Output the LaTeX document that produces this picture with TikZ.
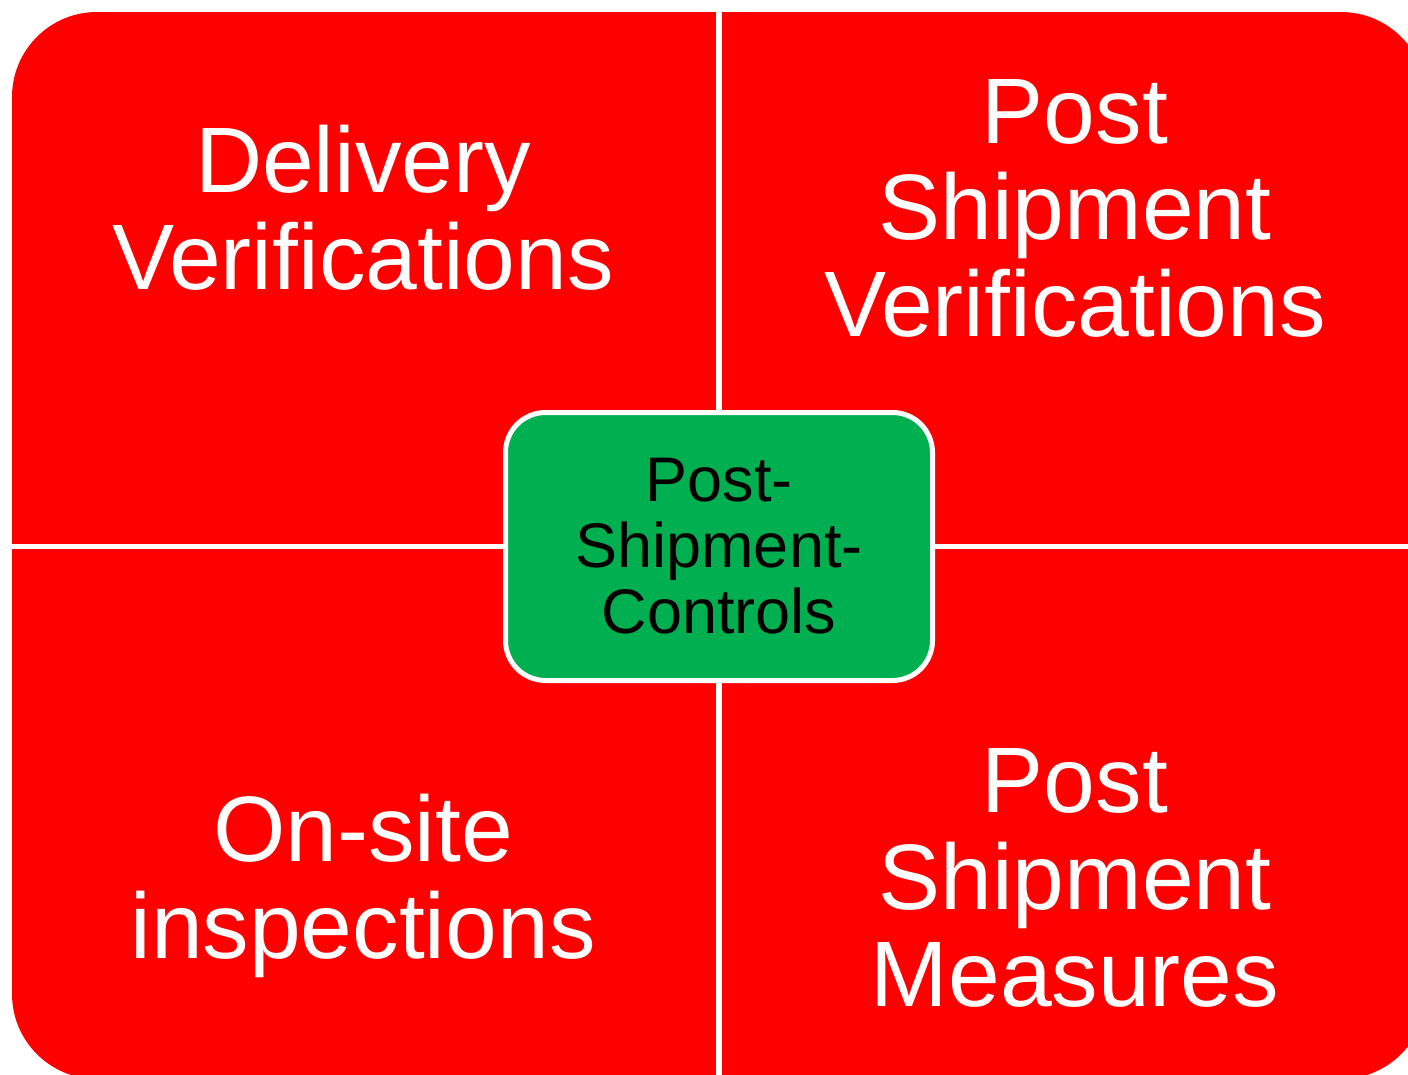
\documentclass[tikz,border=0pt]{standalone}
\usepackage{fontspec}
\setmainfont{Liberation Sans}
\definecolor{quadred}{HTML}{FF0000}
\definecolor{hubgreen}{HTML}{00B050}
\begin{document}
\begin{tikzpicture}[x=1pt, y=-1pt,
  quad/.style={fill=quadred},
  divider/.style={draw=white, line width=5.5pt},
  quadtext/.style={text=white, inner sep=0pt, anchor=base, align=center,
    font=\fontsize{93}{97}\selectfont},
  hubbox/.style={draw=white, line width=5pt, fill=hubgreen, rounded corners=40pt,
    minimum width=427pt, minimum height=268pt, inner sep=0pt, align=center,
    text=black, font=\fontsize{63}{66}\selectfont}]
  \useasboundingbox (0,0) rectangle (1408,1075);

  % the four quadrants, cut from one rounded block
  \begin{scope}
    \clip[rounded corners=85pt] (12,12) rectangle (1426,1079);
    \fill[quad] (12,12) rectangle (719,546.5);
    \fill[quad] (719,12) rectangle (1426,546.5);
    \fill[quad] (12,546.5) rectangle (719,1079);
    \fill[quad] (719,546.5) rectangle (1426,1079);
  \end{scope}

  % white gaps between the quadrants
  \coordinate (gapN) at (719,0);
  \coordinate (gapS) at (719,1080);
  \coordinate (gapW) at (0,546.5);
  \coordinate (gapE) at (1430,546.5);
  \draw[divider] (gapN) -- (gapS);
  \draw[divider] (gapW) -- (gapE);

  % quadrant labels (anchored on the baseline of their last line)
  \node[quadtext] (tl) at (363,290) {Delivery\\Verifications};
  \node[quadtext] (tr) at (1075,337) {Post\\Shipment\\Verifications};
  \node[quadtext] (bl) at (363,958) {On-site\\inspections};
  \node[quadtext] (br) at (1075,1006) {Post\\Shipment\\Measures};

  % central hub
  \node[hubbox] (hub) at (719,546.5) {Post-\\Shipment-\\Controls};
\end{tikzpicture}
\end{document}
